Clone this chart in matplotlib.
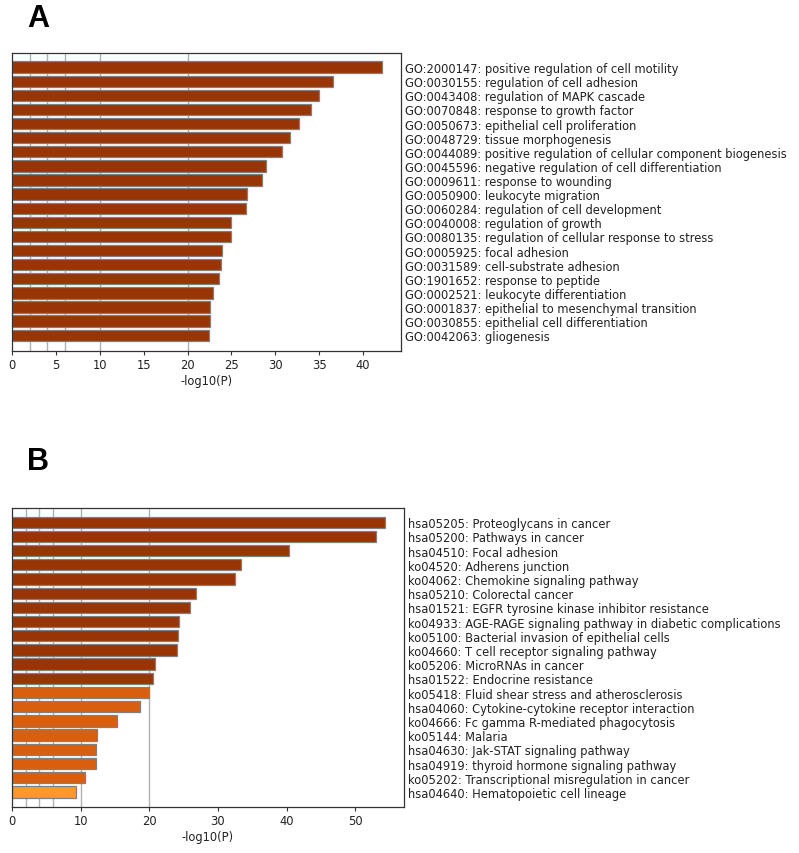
import matplotlib
matplotlib.use("Agg")
import matplotlib.pyplot as plt

# ---- Data ----
go_terms = [
    "GO:2000147: positive regulation of cell motility",
    "GO:0030155: regulation of cell adhesion",
    "GO:0043408: regulation of MAPK cascade",
    "GO:0070848: response to growth factor",
    "GO:0050673: epithelial cell proliferation",
    "GO:0048729: tissue morphogenesis",
    "GO:0044089: positive regulation of cellular component biogenesis",
    "GO:0045596: negative regulation of cell differentiation",
    "GO:0009611: response to wounding",
    "GO:0050900: leukocyte migration",
    "GO:0060284: regulation of cell development",
    "GO:0040008: regulation of growth",
    "GO:0080135: regulation of cellular response to stress",
    "GO:0005925: focal adhesion",
    "GO:0031589: cell-substrate adhesion",
    "GO:1901652: response to peptide",
    "GO:0002521: leukocyte differentiation",
    "GO:0001837: epithelial to mesenchymal transition",
    "GO:0030855: epithelial cell differentiation",
    "GO:0042063: gliogenesis",
]
go_values = [42.2, 36.6, 35.0, 34.1, 32.7, 31.7, 30.8, 28.9, 28.5, 26.8,
             26.6, 25.0, 24.9, 23.9, 23.8, 23.6, 22.9, 22.6, 22.5, 22.4]

kegg_terms = [
    "hsa05205: Proteoglycans in cancer",
    "hsa05200: Pathways in cancer",
    "hsa04510: Focal adhesion",
    "ko04520: Adherens junction",
    "ko04062: Chemokine signaling pathway",
    "hsa05210: Colorectal cancer",
    "hsa01521: EGFR tyrosine kinase inhibitor resistance",
    "ko04933: AGE-RAGE signaling pathway in diabetic complications",
    "ko05100: Bacterial invasion of epithelial cells",
    "ko04660: T cell receptor signaling pathway",
    "ko05206: MicroRNAs in cancer",
    "hsa01522: Endocrine resistance",
    "ko05418: Fluid shear stress and atherosclerosis",
    "hsa04060: Cytokine-cytokine receptor interaction",
    "ko04666: Fc gamma R-mediated phagocytosis",
    "ko05144: Malaria",
    "hsa04630: Jak-STAT signaling pathway",
    "hsa04919: thyroid hormone signaling pathway",
    "ko05202: Transcriptional misregulation in cancer",
    "hsa04640: Hematopoietic cell lineage",
]
kegg_values = [54.4, 53.0, 40.3, 33.4, 32.5, 26.8, 26.0, 24.3, 24.2, 24.1,
               20.9, 20.6, 19.9, 18.7, 15.3, 12.4, 12.3, 12.2, 10.6, 9.3]

grid_positions = [2, 4, 6, 10, 20]
xlabel = "-log10(P)"

FS = 8.3


def bar_color(v):
    if v > 20:
        return "#993404"
    if v > 10:
        return "#D95F0E"
    return "#FE9929"


def draw(ax, terms, values, ticks, bottom_margin):
    n = len(values)
    ypos = list(range(n))
    ax.barh(ypos, values, height=0.8, color=[bar_color(v) for v in values],
            edgecolor="#808080", linewidth=0.9, zorder=2)
    for g in grid_positions:
        ax.axvline(g, color="#b0b0b0", linewidth=1.0, zorder=1)
    ax.set_xlim(0, max(values) * 1.05)
    ax.set_ylim(n - 1 + bottom_margin, -1.0)
    ax.yaxis.tick_right()
    ax.set_yticks(ypos)
    ax.set_yticklabels(terms, fontsize=FS, color="#222222")
    ax.tick_params(axis="y", length=0, pad=3)
    ax.set_xticks(ticks)
    ax.tick_params(axis="x", length=3, width=0.8, pad=2, labelsize=FS,
                   labelcolor="#222222", color="#333333")
    ax.set_xlabel(xlabel, fontsize=FS, color="#222222", labelpad=2)
    for s in ax.spines.values():
        s.set_color("#333333")
        s.set_linewidth(0.9)


fig = plt.figure(figsize=(7.99, 8.54), dpi=100)
axA = fig.add_axes([12 / 799, 1 - 352 / 854, 389 / 799, 298 / 854])
draw(axA, go_terms, go_values, [0, 5, 10, 15, 20, 25, 30, 35, 40], 1.12)

axB = fig.add_axes([12 / 799, 1 - 808 / 854, 392 / 799, 299 / 854])
draw(axB, kegg_terms, kegg_values, [0, 10, 20, 30, 40, 50], 1.06)

fig.text(27 / 799, 1 - 19 / 854, "A", fontsize=22, fontweight="bold",
         family="Liberation Sans", va="center", ha="left")
fig.text(27 / 799, 1 - 462 / 854, "B", fontsize=22, fontweight="bold",
         family="Liberation Sans", va="center", ha="left")

fig.savefig("out.png", dpi=100, facecolor="white")
